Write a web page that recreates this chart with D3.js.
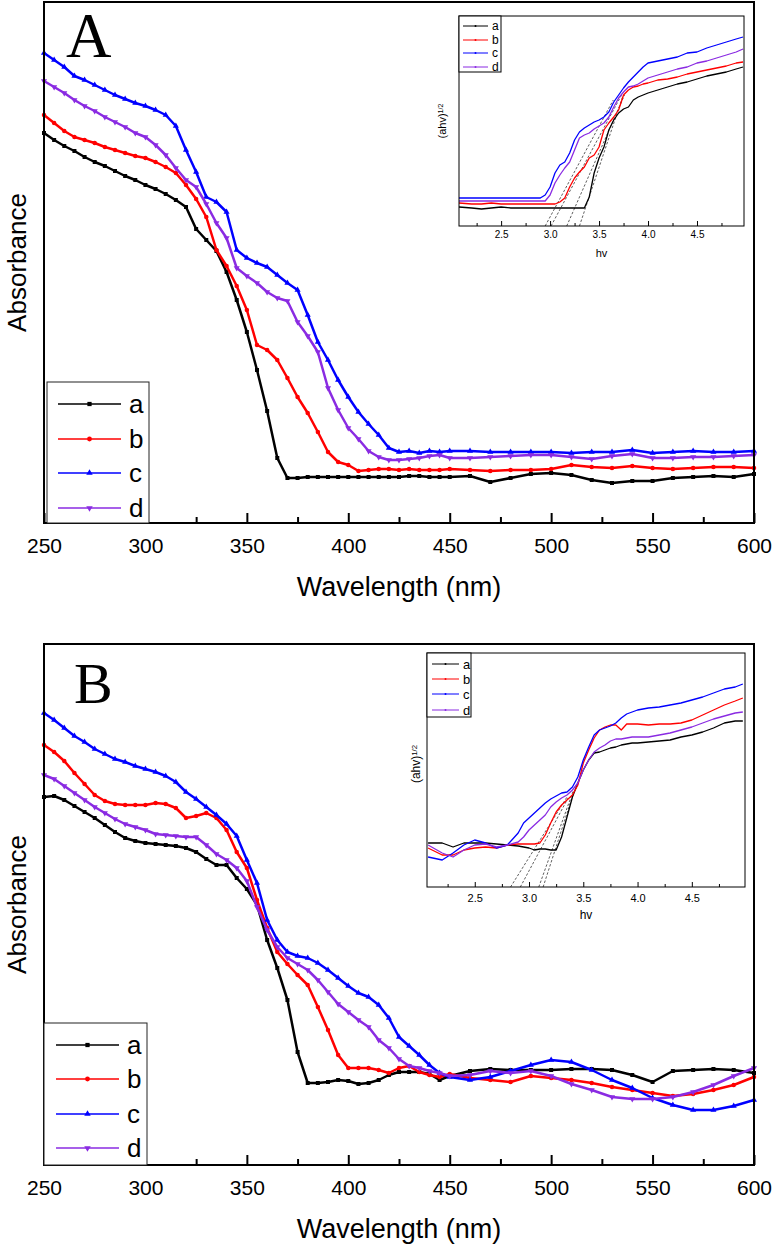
<!DOCTYPE html>
<html><head><meta charset="utf-8">
<script src="https://cdn.jsdelivr.net/npm/d3@7"></script>
<style>
body{margin:0;background:#fff}
svg{display:block}
text{font-family:"Liberation Sans",Arial,sans-serif;fill:#000}
</style>
</head><body>
<svg id="chart" width="774" height="1245"></svg>
<script>
// ---------------- DATA ----------------
const seriesNames = ["a", "b", "c", "d"];
const seriesColors = ["#000000", "#ff0000", "#0000ff", "#8a2be2"];

const wavelength = [250,255,260,265,270,275,280,285,290,295,300,305,310,315,320,325,330,335,340,345,350,355,360,365,370,375,380,385,390,395,400,405,410,415,420,425,430,435,440,445,450,
  460,470,480,490,500,510,520,530,540,550,560,570,580,590,600];
const mainTicks = [250,300,350,400,450,500,550,600];
const mainMinorTicks = [275,325,375,425,475,525,575];

// Panel A absorbance (a.u.)
const absA_a = [3.90,3.83,3.77,3.72,3.66,3.61,3.57,3.52,3.47,3.43,3.38,3.34,3.29,3.23,3.16,2.94,2.83,2.72,2.51,2.23,1.91,1.53,1.12,0.65,0.45,0.45,0.46,0.46,0.46,0.46,0.46,0.46,0.46,0.46,0.46,0.46,0.47,0.47,0.46,0.46,0.46,
  0.47,0.41,0.45,0.49,0.50,0.48,0.43,0.40,0.42,0.42,0.45,0.46,0.47,0.46,0.49];
const absA_b = [4.08,4.00,3.92,3.86,3.83,3.80,3.76,3.73,3.70,3.67,3.65,3.61,3.56,3.50,3.38,3.24,3.06,2.73,2.57,2.37,2.13,1.78,1.73,1.63,1.45,1.26,1.10,0.91,0.71,0.61,0.58,0.52,0.53,0.54,0.54,0.53,0.54,0.53,0.53,0.53,0.54,
  0.53,0.52,0.53,0.53,0.54,0.58,0.56,0.55,0.57,0.55,0.54,0.55,0.56,0.56,0.55];
const absA_c = [4.70,4.63,4.56,4.47,4.43,4.38,4.33,4.28,4.24,4.20,4.17,4.13,4.08,3.97,3.73,3.51,3.26,3.21,3.11,2.73,2.65,2.60,2.56,2.48,2.40,2.33,2.08,1.81,1.63,1.43,1.26,1.11,0.99,0.88,0.75,0.71,0.72,0.70,0.72,0.71,0.72,
  0.72,0.71,0.71,0.71,0.71,0.70,0.71,0.71,0.73,0.70,0.71,0.72,0.71,0.71,0.72];
const absA_d = [4.42,4.36,4.30,4.23,4.17,4.12,4.06,4.01,3.96,3.90,3.86,3.78,3.68,3.55,3.43,3.36,3.19,3.00,2.85,2.55,2.47,2.40,2.31,2.25,2.22,2.01,1.87,1.71,1.35,1.13,0.95,0.84,0.72,0.66,0.63,0.63,0.64,0.65,0.67,0.68,0.65,
  0.65,0.66,0.67,0.68,0.68,0.66,0.64,0.67,0.69,0.65,0.65,0.66,0.66,0.67,0.68];

// Panel B absorbance (a.u.)
const absB_a = [3.68,3.69,3.65,3.59,3.53,3.47,3.40,3.33,3.27,3.24,3.22,3.21,3.20,3.19,3.17,3.13,3.06,3.00,3.00,2.87,2.76,2.60,2.25,1.97,1.65,1.13,0.82,0.82,0.83,0.85,0.84,0.81,0.82,0.85,0.90,0.93,0.93,0.93,0.91,0.85,0.89,
  0.94,0.96,0.95,0.95,0.95,0.96,0.96,0.95,0.90,0.83,0.94,0.95,0.96,0.95,0.92];
const absB_b = [4.20,4.13,4.04,3.92,3.81,3.70,3.64,3.61,3.60,3.60,3.60,3.62,3.61,3.57,3.47,3.49,3.52,3.47,3.35,3.13,2.97,2.65,2.37,2.13,2.01,1.90,1.80,1.58,1.35,1.10,0.97,0.97,0.97,0.95,0.92,0.97,0.99,0.93,0.90,0.88,0.91,
  0.87,0.85,0.83,0.89,0.87,0.85,0.82,0.78,0.75,0.72,0.69,0.71,0.75,0.80,0.88];
const absB_c = [4.52,4.45,4.37,4.29,4.23,4.16,4.11,4.06,4.03,3.99,3.96,3.93,3.89,3.83,3.73,3.66,3.58,3.50,3.41,3.29,3.05,2.82,2.45,2.25,2.13,2.09,2.07,2.02,1.95,1.87,1.79,1.72,1.68,1.60,1.47,1.28,1.19,1.10,1.00,0.92,0.88,
  0.85,0.88,0.94,1.00,1.05,1.03,0.95,0.85,0.77,0.67,0.60,0.55,0.55,0.59,0.65];
const absB_d = [3.90,3.86,3.79,3.72,3.65,3.58,3.52,3.46,3.41,3.38,3.35,3.31,3.30,3.29,3.28,3.28,3.20,3.11,3.05,2.97,2.84,2.58,2.35,2.18,2.07,2.01,1.95,1.85,1.73,1.61,1.53,1.45,1.38,1.25,1.17,1.06,0.99,0.97,0.94,0.92,0.89,
  0.90,0.94,0.92,0.94,0.89,0.81,0.75,0.68,0.66,0.66,0.68,0.73,0.80,0.89,0.97];

// Insets: (ahv)^1/2 versus hv
const hv = [2.07,2.2,2.3,2.4,2.5,2.6,2.7,2.8,2.9,2.95,3.0,3.05,3.1,3.15,3.2,3.25,3.3,3.35,3.4,3.45,3.5,3.55,3.6,3.65,3.7,3.75,3.8,3.85,3.9,3.95,4.0,4.1,4.2,4.3,4.4,4.5,4.6,4.7,4.8,4.9,4.97];
const insetTicks = [2.5,3.0,3.5,4.0,4.5];
const insetMinorTicks = [2.25,2.75,3.25,3.75,4.25,4.75];

const insetA_a = [0.19,0.18,0.17,0.18,0.19,0.18,0.18,0.18,0.18, 0.18,0.18,0.18,0.18,0.18,0.18,0.18,0.18,0.18,0.29,0.53,0.68,0.79,0.96,1.06,1.13,1.17,1.19,1.26,1.29,1.31,1.33, 1.36,1.39,1.42,1.44,1.47,1.50,1.52,1.54,1.57,1.59];
const insetA_b = [0.23,0.22,0.22,0.23,0.22,0.22,0.22,0.22,0.22, 0.22,0.22,0.22,0.24,0.28,0.39,0.48,0.54,0.59,0.68,0.71,0.79,0.96,1.03,1.09,1.16,1.31,1.36,1.39,1.40,1.42,1.43, 1.46,1.47,1.49,1.52,1.54,1.56,1.58,1.60,1.63,1.64];
const insetA_c = [0.28,0.28,0.28,0.28,0.28,0.28,0.28,0.28,0.28, 0.31,0.39,0.53,0.61,0.64,0.73,0.86,0.94,0.98,1.01,1.04,1.06,1.09,1.14,1.24,1.31,1.38,1.44,1.49,1.54,1.59,1.63, 1.65,1.67,1.69,1.73,1.74,1.78,1.81,1.84,1.87,1.89];
const insetA_d = [0.25,0.25,0.25,0.25,0.25,0.25,0.25,0.25,0.25, 0.25,0.31,0.43,0.51,0.58,0.64,0.76,0.88,0.91,0.93,0.97,1.00,1.03,1.09,1.19,1.28,1.34,1.39,1.40,1.42,1.45,1.48, 1.51,1.54,1.57,1.59,1.63,1.65,1.68,1.71,1.74,1.77];
// tangent lines [hv0, y0, hv1, y1]
const tangentA = [[2.95,0,3.645,1.26],[3.01,0,3.73,1.31],[3.17,0,3.76,1.31],[3.30,0,3.74,1.29]];

const insetB_a = [0.44,0.44,0.40,0.44,0.44,0.44,0.43,0.42,0.41, 0.40,0.39,0.37,0.38,0.38,0.37,0.37,0.50,0.70,0.90,1.04,1.17,1.27,1.34,1.35,1.37,1.39,1.40,1.42,1.43,1.44,1.44, 1.45,1.46,1.47,1.50,1.52,1.55,1.59,1.64,1.66,1.66];
const insetB_b = [0.39,0.32,0.32,0.37,0.39,0.40,0.39,0.42,0.43, 0.43,0.43,0.43,0.44,0.52,0.64,0.75,0.82,0.87,0.92,1.02,1.24,1.37,1.49,1.57,1.60,1.62,1.62,1.57,1.63,1.63,1.63, 1.62,1.63,1.63,1.64,1.67,1.72,1.77,1.82,1.86,1.89];
const insetB_c = [0.30,0.27,0.34,0.42,0.47,0.44,0.39,0.42,0.54, 0.64,0.69,0.74,0.79,0.84,0.88,0.91,0.94,0.95,1.00,1.10,1.27,1.40,1.52,1.57,1.59,1.61,1.64,1.69,1.73,1.75,1.77, 1.79,1.80,1.82,1.84,1.87,1.90,1.94,1.98,2.00,2.03];
const insetB_d = [0.42,0.34,0.30,0.37,0.42,0.43,0.40,0.42,0.45, 0.50,0.57,0.62,0.67,0.72,0.80,0.85,0.89,0.92,0.97,1.04,1.17,1.27,1.35,1.39,1.42,1.46,1.48,1.48,1.49,1.50,1.50, 1.50,1.52,1.54,1.57,1.60,1.64,1.68,1.71,1.74,1.75];
const tangentB = [[2.83,0,3.35,0.90],[2.92,0,3.36,0.89],[3.09,0,3.41,0.97],[3.13,0,3.41,0.94]];

// ---------------- DRAWING ----------------
const svg = d3.select("#chart");
const markerTypes = [d3.symbolSquare, d3.symbolCircle, d3.symbolTriangle, d3.symbolTriangle];

function marker(i, size) {
  return d3.symbol(markerTypes[i], size)();
}

function drawPanel(cfg) {
  const g = svg.append("g");
  const x = d3.scaleLinear().domain([250, 600]).range([cfg.left, cfg.right]);
  const y = d3.scaleLinear().domain([0, 5.21]).range([cfg.bottom, cfg.top]);
  const line = d3.line().x(d => x(d[0])).y(d => y(d[1]));

  cfg.data.forEach((vals, i) => {
    const pts = wavelength.map((w, j) => [w, vals[j]]);
    g.append("path").attr("d", line(pts)).attr("fill", "none")
      .attr("stroke", seriesColors[i]).attr("stroke-width", 2.5).attr("stroke-linejoin", "round");
    g.append("g").selectAll("path").data(pts).join("path")
      .attr("transform", d => `translate(${x(d[0])},${y(d[1])})` + (i === 3 ? " rotate(180)" : ""))
      .attr("d", marker(i, 16)).attr("fill", seriesColors[i]);
  });

  // axes
  const ax = g.append("g").attr("transform", `translate(0,${cfg.bottom})`)
    .call(d3.axisBottom(x).tickValues(mainTicks).tickSize(-10).tickPadding(15).tickFormat(d3.format("d")));
  ax.select(".domain").remove();
  ax.selectAll("line").attr("stroke-width", 2);
  ax.selectAll("text").style("font-size", "21px");
  const axm = g.append("g").attr("transform", `translate(0,${cfg.bottom})`)
    .call(d3.axisBottom(x).tickValues(mainMinorTicks).tickSize(-6).tickFormat(""));
  axm.select(".domain").remove();
  axm.selectAll("line").attr("stroke-width", 2);

  g.append("rect").attr("x", cfg.left).attr("y", cfg.top)
    .attr("width", cfg.right - cfg.left).attr("height", cfg.bottom - cfg.top)
    .attr("fill", "none").attr("stroke", "#000").attr("stroke-width", 2);

  g.append("text").attr("x", (cfg.left + cfg.right) / 2).attr("y", cfg.bottom + 73)
    .attr("text-anchor", "middle").style("font-size", "27px").text("Wavelength (nm)");
  g.append("text").attr("transform", `translate(26,${(cfg.top + cfg.bottom) / 2}) rotate(-90)`)
    .attr("text-anchor", "middle").style("font-size", "26px").text("Absorbance");

  g.append("text").attr("x", cfg.letterX).attr("y", cfg.letterY)
    .style("font-family", "'Liberation Serif','Times New Roman',serif")
    .style("font-size", cfg.letterSize + "px").text(cfg.letter);

  // legend
  const L = cfg.legend;
  g.append("rect").attr("x", L.x0).attr("y", L.y0).attr("width", L.x1 - L.x0).attr("height", cfg.bottom - L.y0)
    .attr("fill", "#fff").attr("stroke", "#222").attr("stroke-width", 1);
  seriesNames.forEach((name, i) => {
    const yy = L.ys[i];
    g.append("line").attr("x1", L.lx0).attr("x2", L.lx1).attr("y1", yy).attr("y2", yy)
      .attr("stroke", seriesColors[i]).attr("stroke-width", 1.3);
    g.append("path").attr("transform", `translate(${(L.lx0 + L.lx1) / 2},${yy})` + (i === 3 ? " rotate(180)" : ""))
      .attr("d", marker(i, 18)).attr("fill", seriesColors[i]);
    g.append("text").attr("x", L.tx).attr("y", yy).attr("dy", "0.36em")
      .style("font-size", "26px").text(name);
  });
}

function drawInset(cfg) {
  const g = svg.append("g");
  const x = d3.scaleLinear().domain(cfg.xDomain).range([cfg.left, cfg.right]);
  const y = d3.scaleLinear().domain([0, cfg.yMax]).range([cfg.bottom, cfg.top]);
  g.append("rect").attr("x", cfg.left).attr("y", cfg.top)
    .attr("width", cfg.right - cfg.left).attr("height", cfg.bottom - cfg.top).attr("fill", "#fff");
  const line = d3.line().x(d => x(d[0])).y(d => y(d[1]));

  cfg.tangents.forEach(t => {
    g.append("line").attr("x1", x(t[0])).attr("y1", y(t[1])).attr("x2", x(t[2])).attr("y2", y(t[3]))
      .attr("stroke", "#333").attr("stroke-width", 0.8).attr("stroke-dasharray", "2.5,1.8");
  });
  cfg.data.forEach((vals, i) => {
    const pts = hv.map((h, j) => [h, vals[j]]);
    g.append("path").attr("d", line(pts)).attr("fill", "none")
      .attr("stroke", seriesColors[i]).attr("stroke-width", 1.3).attr("stroke-linejoin", "round");
  });

  const ax = g.append("g").attr("transform", `translate(0,${cfg.bottom})`)
    .call(d3.axisBottom(x).tickValues(insetTicks).tickSize(-5).tickPadding(cfg.tickPad).tickFormat(d3.format(".1f")));
  ax.select(".domain").remove();
  ax.selectAll("text").style("font-size", cfg.tickFont + "px");
  const axm = g.append("g").attr("transform", `translate(0,${cfg.bottom})`)
    .call(d3.axisBottom(x).tickValues(insetMinorTicks).tickSize(-3).tickFormat(""));
  axm.select(".domain").remove();

  g.append("rect").attr("x", cfg.left).attr("y", cfg.top)
    .attr("width", cfg.right - cfg.left).attr("height", cfg.bottom - cfg.top)
    .attr("fill", "none").attr("stroke", "#000").attr("stroke-width", 1);

  g.append("text").attr("x", (cfg.left + cfg.right) / 2).attr("y", cfg.hvY)
    .attr("text-anchor", "middle").style("font-size", cfg.labelFont + "px").text("hv");
  const yl = g.append("text").attr("transform", `translate(${cfg.ylX},${cfg.ylY}) rotate(-90)`)
    .attr("text-anchor", "middle").style("font-size", cfg.labelFont + "px");
  yl.append("tspan").text("(ahv)");
  yl.append("tspan").attr("dy", "-0.45em").style("font-size", (cfg.labelFont * 0.65) + "px").text("1/2");

  const L = cfg.legend;
  g.append("rect").attr("x", cfg.left).attr("y", cfg.top).attr("width", L.x1 - cfg.left).attr("height", L.y1 - cfg.top)
    .attr("fill", "#fff").attr("stroke", "#000").attr("stroke-width", 1);
  seriesNames.forEach((name, i) => {
    const yy = L.ys[i];
    g.append("line").attr("x1", L.lx0).attr("x2", L.lx1).attr("y1", yy).attr("y2", yy)
      .attr("stroke", seriesColors[i]).attr("stroke-width", 1);
    g.append("circle").attr("cx", (L.lx0 + L.lx1) / 2).attr("cy", yy).attr("r", 1)
      .attr("fill", seriesColors[i]);
    g.append("text").attr("x", L.tx).attr("y", yy).attr("dy", "0.36em")
      .style("font-size", L.font + "px").text(name);
  });
}

drawPanel({
  left: 44, right: 754, top: 2, bottom: 523,
  data: [absA_a, absA_b, absA_c, absA_d],
  letter: "A", letterX: 66, letterY: 57, letterSize: 63,
  legend: { x0: 47, x1: 149, y0: 382, lx0: 58, lx1: 121, tx: 129, ys: [404, 439, 473, 508] }
});
drawPanel({
  left: 44, right: 754, top: 644, bottom: 1165,
  data: [absB_a, absB_b, absB_c, absB_d],
  letter: "B", letterX: 74, letterY: 703, letterSize: 58,
  legend: { x0: 44, x1: 147, y0: 1023, lx0: 56, lx1: 119, tx: 127, ys: [1045, 1079, 1114, 1148] }
});
drawInset({
  left: 459, right: 744, top: 16, bottom: 226, xDomain: [2.07, 4.98], yMax: 2.10,
  data: [insetA_a, insetA_b, insetA_c, insetA_d], tangents: tangentA,
  tickPad: 5, tickFont: 10, labelFont: 11, hvY: 257, ylX: 446, ylY: 121,
  legend: { x1: 501, y1: 72, lx0: 463, lx1: 488, tx: 492, font: 12, ys: [26, 40, 53, 67] }
});
drawInset({
  left: 427, right: 745, top: 653, bottom: 887, xDomain: [2.06, 4.99], yMax: 2.34,
  data: [insetB_a, insetB_b, insetB_c, insetB_d], tangents: tangentB,
  tickPad: 7, tickFont: 11, labelFont: 12, hvY: 919, ylX: 420, ylY: 764,
  legend: { x1: 471, y1: 717, lx0: 432, lx1: 459, tx: 463, font: 13, ys: [664, 679, 694, 710] }
});
</script>
</body></html>
